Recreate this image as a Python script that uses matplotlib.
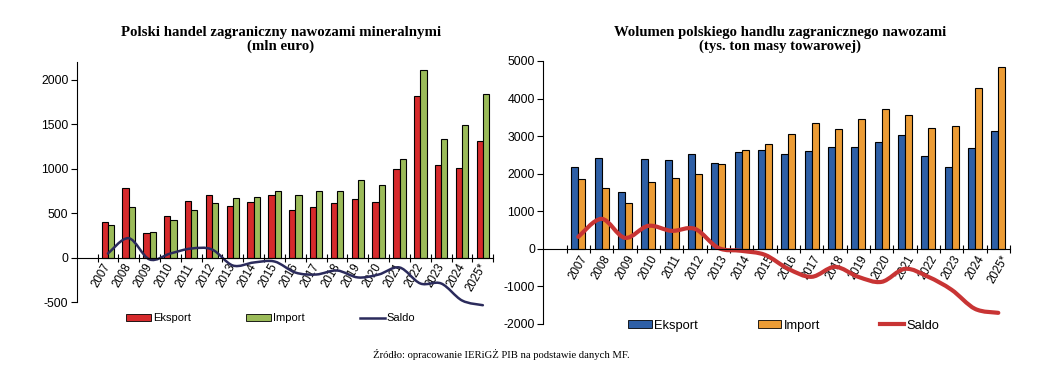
import matplotlib.pyplot as plt
from matplotlib.path import Path
from matplotlib.patches import PathPatch, Patch
from matplotlib.lines import Line2D
import numpy as np

plt.rcParams['font.family'] = ['Liberation Sans', 'DejaVu Sans']
plt.rcParams['axes.unicode_minus'] = False

years = ['2007', '2008', '2009', '2010', '2011', '2012', '2013', '2014', '2015', '2016',
         '2017', '2018', '2019', '2020', '2021', '2022', '2023', '2024', '2025*']

# mln euro
value_export = [404, 779, 270, 472, 640, 697, 584, 629, 708, 539,
                562, 607, 652, 629, 1000, 1820, 1045, 1011, 1307]
value_import = [360, 562, 292, 427, 539, 607, 674, 685, 753, 708,
                753, 753, 876, 820, 1112, 2112, 1337, 1494, 1843]

# tys. ton
volume_export = [2172, 2411, 1507, 2385, 2358, 2518, 2278, 2571, 2624, 2518,
                 2598, 2704, 2704, 2837, 3023, 2465, 2172, 2677, 3129]
volume_import = [1853, 1613, 1214, 1773, 1879, 1986, 2252, 2624, 2784, 3050,
                 3342, 3183, 3449, 3715, 3555, 3209, 3262, 4273, 4832]


def smooth_path(x, y):
    '''
    bezier path through the points, like a smoothed line in a spreadsheet
    '''
    pts = np.column_stack([x, y]).astype(float)
    verts = [pts[0]]
    codes = [Path.MOVETO]
    n = len(pts)
    for i in range(n - 1):
        p_prev = pts[max(i - 1, 0)]
        p0 = pts[i]
        p1 = pts[i + 1]
        p_next = pts[min(i + 2, n - 1)]
        c1 = p0 + (p1 - p_prev) / 6
        c2 = p1 - (p_next - p0) / 6
        verts += [c1, c2, p1]
        codes += [Path.CURVE4] * 3
    return Path(verts, codes)


def draw_panel(ax, exp, imp, c_exp, c_imp, c_saldo, lw_saldo, ymin, ymax, step, label_shift):
    x = np.arange(len(years))
    ax.bar(x - 0.15, exp, width=0.3, color=c_exp, edgecolor='black', linewidth=0.8, zorder=2)
    ax.bar(x + 0.15, imp, width=0.3, color=c_imp, edgecolor='black', linewidth=0.8, zorder=2)
    saldo = [e - i for e, i in zip(exp, imp)]
    ax.add_patch(PathPatch(smooth_path(x, saldo), facecolor='none', edgecolor=c_saldo,
                           linewidth=lw_saldo, capstyle='round', zorder=3, clip_on=False))

    ax.set_xlim(-1.5, len(years) - 0.5)
    ax.set_ylim(ymin, ymax)
    ax.set_yticks(np.arange(ymin, ymax + 1, step))

    ax.tick_params(axis='x', which='major', direction='inout', length=5.5, width=0.8,
                   labelbottom=False)
    ax.tick_params(axis='x', which='minor', length=0, pad=3, labelsize=8.3, labelrotation=60)
    ax.tick_params(axis='y', direction='out', length=4, width=0.8, labelsize=8.8, pad=2)

    ax.set_xticks(np.arange(len(years) + 1) - 0.5)
    ax.set_xticks(x + label_shift, minor=True)
    ax.set_xticklabels(years, minor=True)
    for lbl in ax.get_xticklabels(minor=True):
        lbl.set_rotation(60)
        lbl.set_ha('right')
        lbl.set_va('center')
        lbl.set_rotation_mode('anchor')

    ax.spines['top'].set_visible(False)
    ax.spines['right'].set_visible(False)
    ax.spines['bottom'].set_position(('data', 0))
    ax.spines['bottom'].set_zorder(4)
    ax.spines['left'].set_linewidth(0.8)
    ax.spines['bottom'].set_linewidth(0.8)

    handles = [Patch(facecolor=c_exp, edgecolor='black', linewidth=0.6, label='Eksport'),
               Patch(facecolor=c_imp, edgecolor='black', linewidth=0.6, label='Import'),
               Line2D([], [], color=c_saldo, linewidth=lw_saldo, label='Saldo')]
    return handles


fig = plt.figure(figsize=(10.59, 3.76), dpi=100)

ax1 = fig.add_axes([0.0724, 0.1968, 0.3934, 0.639])
h1 = draw_panel(ax1, value_export, value_import, '#d62a2c', '#9bbb59', '#2b2b5c', 1.8,
                -500, 2200, 500, -0.3)
ax1.set_yticks(np.arange(-500, 2001, 500))

ax2 = fig.add_axes([0.513, 0.1383, 0.4407, 0.6995])
h2 = draw_panel(ax2, volume_export, volume_import, '#2e5fa6', '#ec9c35', '#c83434', 3.0,
                -2000, 5000, 1000, 0.0)

fig.legend(handles=h1, loc='center left', bbox_to_anchor=(0.115, 0.153), ncol=3,
           frameon=False, fontsize=8, handlelength=2.2, handleheight=0.55,
           handletextpad=0.2, columnspacing=5.0, borderaxespad=0)
fig.legend(handles=h2, loc='center left', bbox_to_anchor=(0.588, 0.134), ncol=3,
           frameon=False, fontsize=9.3, handlelength=1.85, handleheight=0.5,
           handletextpad=0.2, columnspacing=4.6, borderaxespad=0)

fig.text(0.265, 0.895, 'Polski handel zagraniczny nawozami mineralnymi\n(mln euro)',
         ha='center', va='center', fontsize=10.7, fontweight='bold',
         family='Liberation Serif', linespacing=1.1)
fig.text(0.737, 0.895, 'Wolumen polskiego handlu zagranicznego nawozami\n(tys. ton masy towarowej)',
         ha='center', va='center', fontsize=10.6, fontweight='bold',
         family='Liberation Serif', linespacing=1.1)
fig.text(0.473, 0.056, 'Źródło: opracowanie IERiGŻ PIB na podstawie danych MF.',
         ha='center', va='center', fontsize=7.7, family='Liberation Serif')

fig.savefig('out.png', dpi=100)
